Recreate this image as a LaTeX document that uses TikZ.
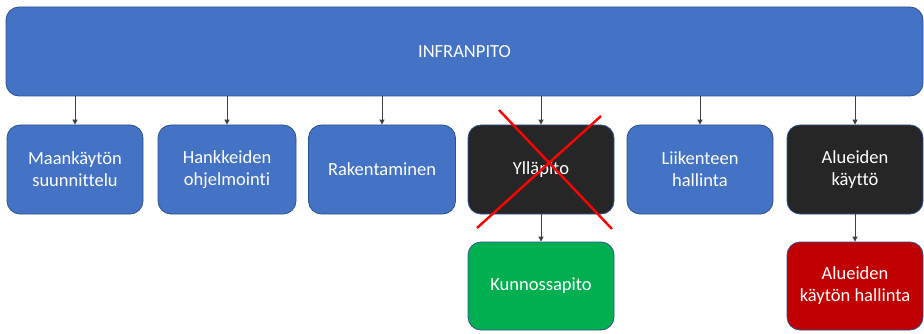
\documentclass[tikz,border=0pt]{standalone}
\usepackage{fontspec}
\setmainfont{Carlito}[Ligatures=NoCommon]
\usepackage{xcolor}
\usetikzlibrary{arrows.meta}
\definecolor{boxblue}{HTML}{4472C4}
\definecolor{boxline}{HTML}{2F528F}
\definecolor{boxdark}{HTML}{262626}
\definecolor{boxgreen}{HTML}{00B050}
\definecolor{boxred}{HTML}{C00000}
\definecolor{arrowgray}{HTML}{404040}

\begin{document}
\begin{tikzpicture}[x=1pt,y=-1pt,
  box/.style={draw=boxline, line width=0.8pt, rounded corners=13pt, text=white,
    align=center, inner sep=0pt, minimum height=89pt,
    font=\fontsize{18.5}{22}\selectfont},
  link/.style={draw=arrowgray, line width=0.9pt, -{Triangle[length=5pt,width=5pt]}}]
\useasboundingbox (0,0) rectangle (924,334);
\node[box, fill=boxblue, minimum width=917pt] (top) at (464.5,51.5){INFRANPITO};
\node[box, fill=boxblue, minimum width=136pt] (maa) at (75,169.5){Maankäytön\\suunnittelu};
\node[box, fill=boxblue, minimum width=138pt] (hank) at (227,169.5){Hankkeiden\\ohjelmointi};
\node[box, fill=boxblue, minimum width=147pt] (rak) at (382,169.5){Rakentaminen};
\node[box, fill=boxdark, minimum width=146pt] (yll) at (541,169.5){Ylläpito};
\node[box, fill=boxblue, minimum width=146pt] (lii) at (700,169.5){Liikenteen\\hallinta};
\node[box, fill=boxdark, minimum width=136pt] (alu) at (855,169.5){Alueiden\\käyttö};
\node[box, fill=boxgreen, minimum width=146pt, minimum height=88pt] (kun) at (541,286){Kunnossapito};
\node[box, fill=boxred, minimum width=136pt, minimum height=88pt] (aluh) at (855,286){Alueiden\\käytön hallinta};
\foreach \n in {maa,hank,rak,yll,lii,alu}
  \draw[link] (top.south -| \n.north) -- (\n.north);
\draw[link] (yll.south) -- (kun.north);
\draw[link] (alu.south) -- (aluh.north);
% ylläpito crossed out
\coordinate (xa) at (499,110);
\coordinate (xb) at (612,229);
\coordinate (xc) at (601,116);
\coordinate (xd) at (477,228);
\draw[red, line width=2.4pt] (xa) -- (xb);
\draw[red, line width=2.4pt] (xc) -- (xd);
\end{tikzpicture}
\end{document}
